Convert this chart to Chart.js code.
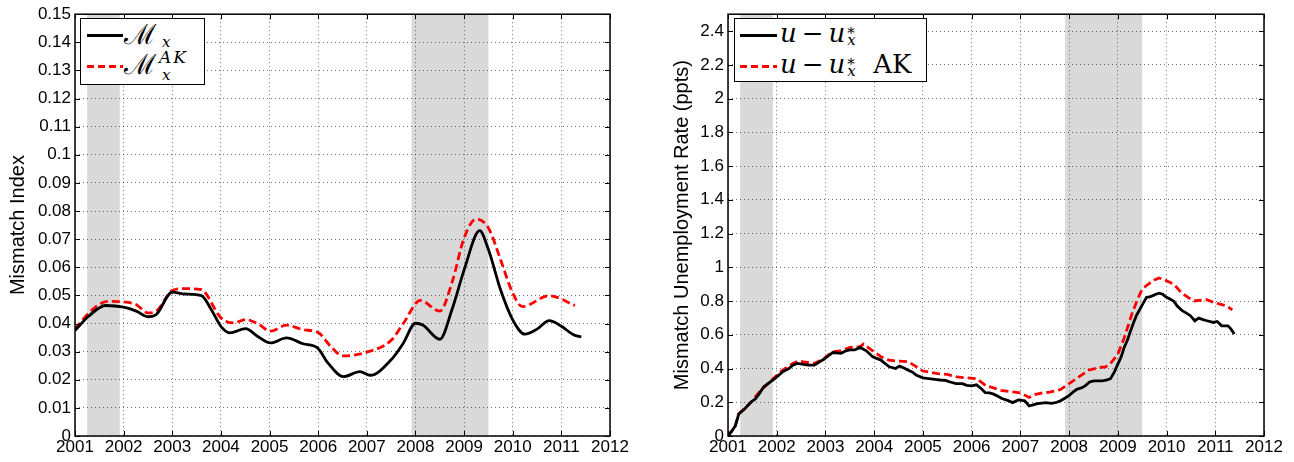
<!DOCTYPE html>
<html>
<head>
<meta charset="utf-8">
<script src="https://cdn.jsdelivr.net/npm/chart.js@4.4.1/dist/chart.umd.min.js"></script>
<style>
  body { margin: 0; background: #fff; width: 1294px; height: 462px; position: relative; overflow: hidden; }
  canvas { position: absolute; top: 0; }
  .legend { position: absolute; background: #fff; border: 1px solid #000; box-sizing: border-box;
            font-family: "DejaVu Serif", "Liberation Serif", serif; color: #000; }
  .abs { position: absolute; white-space: nowrap; line-height: 1; }
  .sample { position: absolute; height: 3px; }
  .solid { background: #000; }
  .dash { background: repeating-linear-gradient(to right, #f00 0 7px, transparent 7px 11px); }
  .script { font-size: 28px; }
  .small { font-size: 15px; }
  .math { font-size: 26px; }
  .op { margin: 0 5px; }
  .stack { display: inline-block; position: relative; width: 12px; height: 0; margin-left: 2px; }
  .stack span { position: absolute; left: 0; font-size: 15px; line-height: 1; }
  .stack .up { top: -16px; }
  .stack .dn { top: -9px; }
  i { font-style: italic; }
</style>
</head>
<body>
<canvas id="indexChart" width="640" height="462" style="left:0"></canvas>
<canvas id="rateChart" width="654" height="462" style="left:640px"></canvas>

<div class="legend" style="left:80px; top:18px; width:125px; height:67px;">
  <div class="sample solid" style="left:6px; top:15px; width:36px;"></div>
  <div class="abs script" style="left:43px; top:2px;">ℳ</div>
  <div class="abs small" style="left:81px; top:16px;"><i>x</i></div>
  <div class="sample dash" style="left:6px; top:46px; width:36px;"></div>
  <div class="abs script" style="left:43px; top:32px;">ℳ</div>
  <div class="abs small" style="left:78px; top:30px; font-size:17px; letter-spacing:2px;"><i>AK</i></div>
  <div class="abs small" style="left:81px; top:49px;"><i>x</i></div>
</div>

<div class="legend" style="left:734px; top:18px; width:193px; height:64px;">
  <div class="sample solid" style="left:5px; top:15px; width:37px;"></div>
  <div class="abs math" style="left:45px; top:1px;"><i>u</i><span class="op">−</span><i>u</i><span class="stack"><span class="up">*</span><span class="dn"><i>x</i></span></span></div>
  <div class="sample dash" style="left:5px; top:46px; width:37px;"></div>
  <div class="abs math" style="left:45px; top:32px;"><i>u</i><span class="op">−</span><i>u</i><span class="stack"><span class="up">*</span><span class="dn"><i>x</i></span></span><span style="margin-left:14px;">AK</span></div>
</div>

<script>
// x axis + shading
const years = [2001, 2002, 2003, 2004, 2005, 2006, 2007, 2008, 2009, 2010, 2011, 2012];
const recessions = [[2001.25, 2001.92], [2007.92, 2009.5]];

// left panel: mismatch index
const idxTicks = [0, 0.01, 0.02, 0.03, 0.04, 0.05, 0.06, 0.07, 0.08, 0.09, 0.1, 0.11, 0.12, 0.13, 0.14, 0.15];
const mxYears = [2001.0, 2001.28, 2001.63, 2002.0, 2002.26, 2002.5, 2002.67, 2003.0, 2003.26, 2003.6,
  2003.8, 2004.0, 2004.18, 2004.51, 2004.75, 2005.02, 2005.35, 2005.69, 2005.98, 2006.2,
  2006.52, 2006.86, 2007.07, 2007.5, 2007.75, 2008.0, 2008.15, 2008.5, 2008.75, 2009.0,
  2009.32, 2009.5, 2009.75, 2010.0, 2010.25, 2010.5, 2010.75, 2011.0, 2011.25, 2011.41];
const mxValues = [0.0375, 0.0426, 0.0464, 0.0458, 0.0444, 0.0424, 0.0432, 0.0512, 0.0505, 0.0499,
  0.045, 0.039, 0.0367, 0.0382, 0.0355, 0.0331, 0.0349, 0.0328, 0.0314, 0.026,
  0.0211, 0.0229, 0.0216, 0.0271, 0.033, 0.0401, 0.0395, 0.0344, 0.0449, 0.059,
  0.073, 0.0663, 0.052, 0.0413, 0.0362, 0.038, 0.041, 0.039, 0.036, 0.0352];
const mxAKYears = [2001.0, 2001.3, 2001.67, 2002.0, 2002.26, 2002.5, 2002.67, 2003.0, 2003.26, 2003.59,
  2004.0, 2004.26, 2004.51, 2004.75, 2005.02, 2005.35, 2005.69, 2006.0, 2006.25, 2006.5,
  2007.0, 2007.5, 2007.75, 2008.1, 2008.5, 2008.75, 2009.0, 2009.25, 2009.5, 2009.75,
  2010.0, 2010.2, 2010.75, 2011.28];
const mxAKValues = [0.038, 0.044, 0.0479, 0.0477, 0.0467, 0.0438, 0.0444, 0.0517, 0.0524, 0.0521,
  0.042, 0.0402, 0.0414, 0.040, 0.0373, 0.0394, 0.0378, 0.0368, 0.032, 0.0285,
  0.0298, 0.034, 0.040, 0.0482, 0.0444, 0.0545, 0.0704, 0.0772, 0.074, 0.0627,
  0.0508, 0.046, 0.0499, 0.0464];

// right panel: mismatch unemployment rate
const rateTicks = [0, 0.2, 0.4, 0.6, 0.8, 1, 1.2, 1.4, 1.6, 1.8, 2, 2.2, 2.4];
const uYears = [2001.0, 2001.08, 2001.15, 2001.22, 2001.34, 2001.47, 2001.56, 2001.64, 2001.73, 2001.82,
  2001.96, 2002.12, 2002.25, 2002.33, 2002.42, 2002.55, 2002.65, 2002.77, 2002.88, 2002.97,
  2003.08, 2003.15, 2003.32, 2003.42, 2003.5, 2003.6, 2003.71, 2003.84, 2003.97, 2004.05,
  2004.14, 2004.22, 2004.31, 2004.44, 2004.52, 2004.6, 2004.7, 2004.78, 2004.87, 2005.0,
  2005.12, 2005.25, 2005.35, 2005.46, 2005.56, 2005.68, 2005.81, 2005.9, 2006.0, 2006.1,
  2006.2, 2006.28, 2006.37, 2006.45, 2006.54, 2006.62, 2006.75, 2006.84, 2006.96, 2007.09,
  2007.18, 2007.26, 2007.35, 2007.44, 2007.52, 2007.64, 2007.75, 2007.82, 2007.92, 2007.99,
  2008.08, 2008.16, 2008.25, 2008.33, 2008.42, 2008.51, 2008.6, 2008.68, 2008.78, 2008.85,
  2008.93, 2009.0, 2009.07, 2009.13, 2009.2, 2009.25, 2009.32, 2009.38, 2009.45, 2009.51,
  2009.59, 2009.65, 2009.72, 2009.78, 2009.85, 2009.92, 2010.0, 2010.08, 2010.15, 2010.22,
  2010.32, 2010.4, 2010.49, 2010.58, 2010.66, 2010.75, 2010.83, 2010.96, 2011.04, 2011.13,
  2011.26, 2011.32, 2011.39];
const uValues = [0.0, 0.03, 0.06, 0.13, 0.16, 0.2, 0.22, 0.25, 0.29, 0.31,
  0.34, 0.38, 0.4, 0.42, 0.43, 0.425, 0.42, 0.42, 0.44, 0.455,
  0.48, 0.495, 0.49, 0.505, 0.51, 0.51, 0.525, 0.505, 0.47, 0.46,
  0.45, 0.43, 0.41, 0.4, 0.415, 0.405, 0.39, 0.38, 0.36, 0.345,
  0.34, 0.335, 0.332, 0.33, 0.32, 0.31, 0.31, 0.3, 0.297, 0.303,
  0.28, 0.257, 0.255, 0.248, 0.235, 0.222, 0.21, 0.198, 0.214, 0.208,
  0.178, 0.185, 0.192, 0.195, 0.198, 0.194, 0.2, 0.208, 0.225, 0.238,
  0.26, 0.277, 0.285, 0.297, 0.32, 0.327, 0.327, 0.327, 0.332, 0.34,
  0.38, 0.426, 0.47, 0.525, 0.57, 0.614, 0.67, 0.713, 0.75, 0.782,
  0.822, 0.825, 0.832, 0.84, 0.846, 0.84, 0.822, 0.81, 0.798, 0.77,
  0.743, 0.73, 0.713, 0.683, 0.699, 0.69, 0.683, 0.673, 0.679, 0.653,
  0.653, 0.635, 0.605];
const uAKYears = [2001.0, 2001.08, 2001.15, 2001.22, 2001.47, 2001.64, 2001.82, 2001.96, 2002.12, 2002.33,
  2002.45, 2002.55, 2002.77, 2002.97, 2003.15, 2003.32, 2003.5, 2003.71, 2003.78, 2003.97,
  2004.14, 2004.3, 2004.44, 2004.7, 2004.87, 2005.0, 2005.3, 2005.5, 2005.7, 2005.9,
  2006.1, 2006.3, 2006.45, 2006.6, 2006.84, 2007.0, 2007.18, 2007.3, 2007.45, 2007.6,
  2007.82, 2008.0, 2008.2, 2008.4, 2008.6, 2008.75, 2008.85, 2009.0, 2009.13, 2009.3,
  2009.42, 2009.5, 2009.6, 2009.75, 2009.85, 2010.0, 2010.15, 2010.3, 2010.45, 2010.55,
  2010.82, 2011.03, 2011.23, 2011.35];
const uAKValues = [0.0, 0.03, 0.06, 0.13, 0.2, 0.26, 0.31, 0.35, 0.39, 0.43,
  0.445, 0.44, 0.43, 0.46, 0.5, 0.505, 0.525, 0.53, 0.545, 0.505,
  0.47, 0.45, 0.445, 0.44, 0.41, 0.385, 0.37, 0.365, 0.35, 0.345,
  0.34, 0.297, 0.285, 0.27, 0.261, 0.255, 0.228, 0.245, 0.255, 0.26,
  0.275, 0.311, 0.35, 0.39, 0.405, 0.41, 0.43, 0.485, 0.58, 0.733,
  0.82, 0.871, 0.895, 0.925, 0.937, 0.92, 0.9, 0.851, 0.82, 0.8,
  0.808, 0.786, 0.772, 0.747];

// shading, inward tick marks and box, matlab style
const matlabFrame = {
  id: "matlabFrame",
  beforeDraw(chart) {
    const { ctx, chartArea: a, scales: { x } } = chart;
    ctx.save();
    ctx.fillStyle = "#d9d9d9";
    recessions.forEach(([s, e]) => {
      const x0 = x.getPixelForValue(s);
      const x1 = x.getPixelForValue(e);
      ctx.fillRect(x0, a.top, x1 - x0, a.bottom - a.top);
    });
    ctx.restore();
  },
  afterDraw(chart) {
    const { ctx, chartArea: a, scales: { x, y } } = chart;
    ctx.save();
    ctx.strokeStyle = "#000";
    ctx.lineWidth = 1;
    ctx.beginPath();
    x.ticks.forEach((t) => {
      const px = Math.round(x.getPixelForValue(t.value)) + 0.5;
      ctx.moveTo(px, a.bottom); ctx.lineTo(px, a.bottom - 5);
      ctx.moveTo(px, a.top); ctx.lineTo(px, a.top + 5);
    });
    y.ticks.forEach((t) => {
      const py = Math.round(y.getPixelForValue(t.value)) + 0.5;
      ctx.moveTo(a.left, py); ctx.lineTo(a.left + 5, py);
      ctx.moveTo(a.right, py); ctx.lineTo(a.right - 5, py);
    });
    ctx.stroke();
    ctx.lineWidth = 1.5;
    ctx.strokeRect(a.left, a.top, a.right - a.left, a.bottom - a.top);
    ctx.restore();
  },
};

function toPoints(xs, ys) {
  return xs.map((v, i) => ({ x: v, y: ys[i] }));
}

function makeChart(id, datasets, yTicks, yMax, yTitle, axisWidth, titlePad, digits) {
  const ctx = document.getElementById(id).getContext("2d");
  return new Chart(ctx, {
    type: "line",
    data: { datasets: datasets },
    options: {
      responsive: false,
      animation: false,
      layout: { padding: { top: 14, right: 30, left: 0, bottom: 0 } },
      plugins: { legend: { display: false }, tooltip: { enabled: false } },
      elements: { point: { radius: 0 } },
      scales: {
        x: {
          type: "linear",
          min: 2001,
          max: 2012,
          afterBuildTicks: (scale) => { scale.ticks = years.map((v) => ({ value: v })); },
          afterFit: (scale) => { scale.height = 26; },
          ticks: {
            callback: (v) => String(v),
            color: "#000",
            padding: 1,
            maxRotation: 0,
            font: { family: "Liberation Sans", size: 17 },
          },
          grid: { color: "rgba(0,0,0,0.55)", drawTicks: false },
          border: { display: false, dash: [1, 3] },
        },
        y: {
          min: 0,
          max: yMax,
          afterBuildTicks: (scale) => { scale.ticks = yTicks.map((v) => ({ value: v })); },
          afterFit: (scale) => { scale.width = axisWidth; },
          ticks: {
            callback: (v) => String(Number(v.toFixed(digits))),
            color: "#000",
            padding: 4,
            font: { family: "Liberation Sans", size: 17 },
          },
          grid: { color: "rgba(0,0,0,0.55)", drawTicks: false },
          border: { display: false, dash: [1, 3] },
          title: {
            display: true,
            text: yTitle,
            color: "#000",
            padding: { top: titlePad, bottom: 0 },
            font: { family: "Liberation Sans", size: 20 },
          },
        },
      },
    },
    plugins: [matlabFrame],
  });
}

makeChart("indexChart", [
  { data: toPoints(mxYears, mxValues), borderColor: "#000", borderWidth: 2.8, cubicInterpolationMode: "monotone" },
  { data: toPoints(mxAKYears, mxAKValues), borderColor: "#f00", borderWidth: 2.8, borderDash: [8, 4], cubicInterpolationMode: "monotone" },
], idxTicks, 0.15, "Mismatch Index", 75, 6, 2);

makeChart("rateChart", [
  { data: toPoints(uYears, uValues), borderColor: "#000", borderWidth: 2.8, tension: 0 },
  { data: toPoints(uAKYears, uAKValues), borderColor: "#f00", borderWidth: 2.8, borderDash: [8, 4], tension: 0 },
], rateTicks, 2.5, "Mismatch Unemployment Rate (ppts)", 88, 30, 1);
</script>
</body>
</html>
